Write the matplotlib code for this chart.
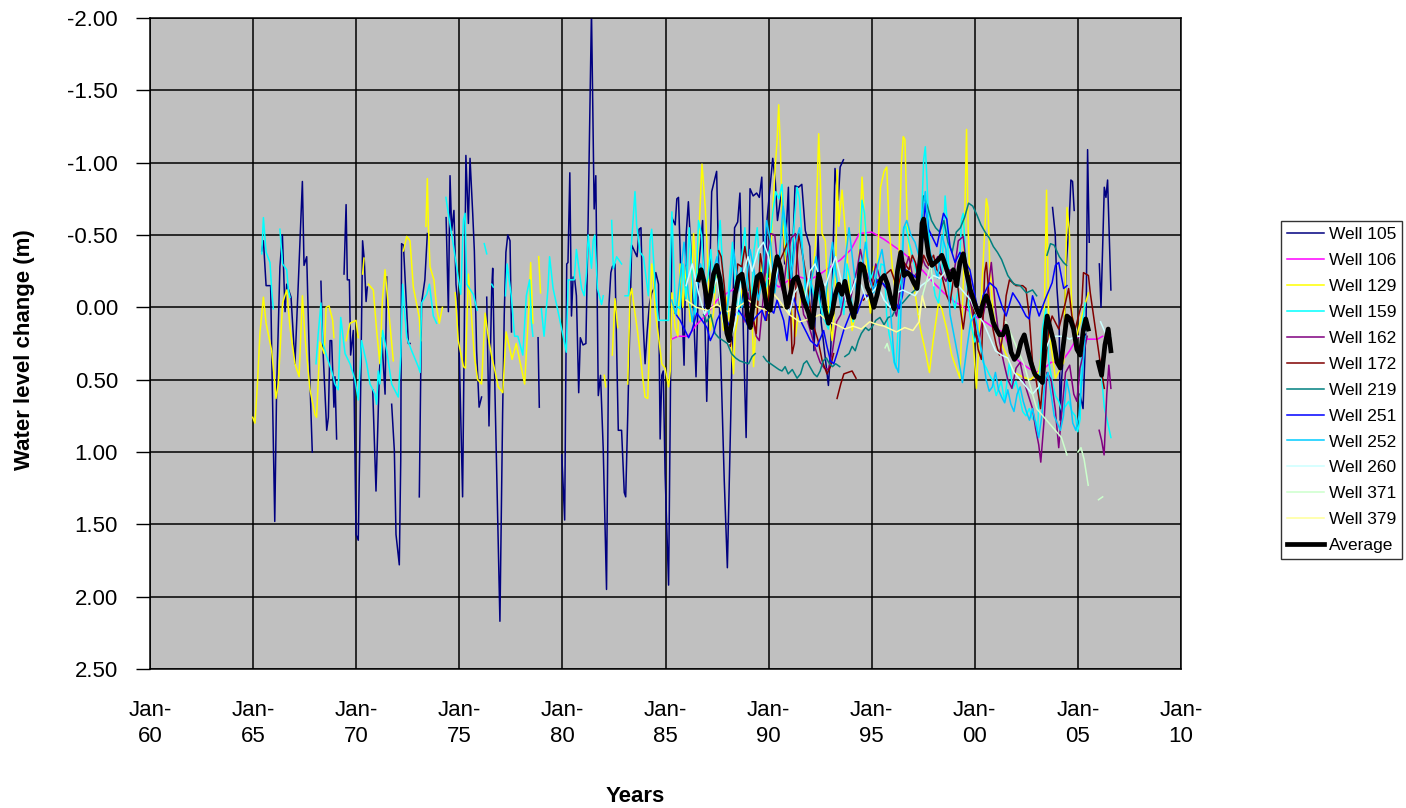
import numpy as np
import matplotlib.pyplot as plt

plt.rcParams['font.family'] = ['Liberation Sans', 'DejaVu Sans']
plt.rcParams['axes.unicode_minus'] = False

# (year, water level change in m); None marks a gap in the record
w105 = [(1965.42, -0.39), (1965.50, -0.46), (1965.63, -0.15), (1965.85, -0.15), (1965.93, 0.53), (1966.05, 1.48),
        (1966.14, 0.57), (1966.30, -0.28), (1966.42, -0.50), (1966.55, 0.03), (1966.63, -0.16), (1966.84, -0.07),
        (1967.03, 0.39), (1967.19, -0.16), (1967.39, -0.87), (1967.47, -0.29), (1967.60, -0.35), (1967.76, 0.53),
        (1967.87, 1.00), (1968.0, None),
        (1968.29, -0.18), (1968.37, 0.24), (1968.57, 0.85), (1968.65, 0.76), (1968.73, 0.23), (1968.81, 0.23),
        (1968.92, 0.69), (1968.97, 0.48), (1969.05, 0.91), (1969.2, None),
        (1969.41, -0.23), (1969.51, -0.71), (1969.57, -0.19), (1969.67, -0.19), (1969.73, 0.33), (1969.86, 0.16),
        (1969.99, 1.57), (1970.10, 1.61), (1970.22, 0.53), (1970.31, -0.46), (1970.39, -0.33), (1970.48, -0.04),
        (1970.54, -0.14), (1970.65, None),
        (1970.80, 0.57), (1970.96, 1.27), (1971.12, 0.46), (1971.24, 0.21), (1971.40, 0.60), (1971.48, -0.21),
        (1971.6, None),
        (1971.72, 0.67), (1971.85, 0.99), (1971.93, 1.57), (1972.09, 1.78), (1972.16, 1.06), (1972.20, -0.44),
        (1972.29, -0.43), (1972.40, -0.12), (1972.53, 0.25), (1972.61, 0.25), (1972.8, None),
        (1973.06, 1.31), (1973.17, -0.03), (1973.33, -0.19), (1973.45, -0.51), (1973.9, None),
        (1974.36, -0.62), (1974.47, 0.03), (1974.55, -0.91), (1974.63, -0.53), (1974.74, -0.67), (1974.84, -0.16),
        (1974.95, 0.02), (1975.16, 1.31), (1975.23, 0.34), (1975.32, -1.05), (1975.44, -0.58), (1975.52, -1.03),
        (1975.65, -0.65), (1975.73, -0.39), (1975.84, 0.30), (1975.96, 0.69), (1976.08, 0.62), (1976.2, None),
        (1976.33, -0.07), (1976.44, 0.82), (1976.57, -0.12), (1976.62, -0.27), (1976.73, 0.59), (1976.97, 2.17),
        (1977.10, 0.74), (1977.18, 0.05), (1977.26, -0.38), (1977.35, -0.50), (1977.46, -0.46), (1977.53, 0.17),
        (1978.0, None),
        (1978.82, 0.21), (1978.88, 0.69), (1979.3, None),
        (1979.97, 1.02), (1980.11, 1.47), (1980.21, -0.30), (1980.27, -0.31), (1980.36, -0.93), (1980.44, 0.06),
        (1980.52, -0.21), (1980.60, -0.19), (1980.68, -0.08), (1980.79, 0.59), (1980.87, 0.21), (1981.00, 0.26),
        (1981.14, 0.25), (1981.25, -0.62), (1981.41, -2.05), (1981.54, -0.68), (1981.62, -0.91), (1981.74, 0.61),
        (1981.85, 0.47), (1981.98, 0.98), (1982.14, 1.95), (1982.26, -0.02), (1982.35, -0.24), (1982.42, -0.28),
        (1982.55, -0.30), (1982.71, 0.85), (1982.87, 0.85), (1983.00, 1.28), (1983.07, 1.31), (1983.17, 0.74),
        (1983.36, -0.43), (1983.62, -0.35), (1983.72, -0.54), (1983.81, -0.55), (1983.91, 0.09), (1984.01, 0.39),
        (1984.11, 0.17), (1984.22, -0.02), (1984.33, -0.10), (1984.45, -0.13), (1984.53, -0.24), (1984.66, -0.16),
        (1984.74, 0.91), (1984.82, 0.47), (1984.89, 0.44), (1984.98, 1.15), (1985.15, 1.92), (1985.23, 0.74),
        (1985.31, -0.62), (1985.47, -0.57), (1985.55, -0.75), (1985.63, -0.76), (1985.75, -0.20), (1985.90, 0.40),
        (1986.00, -0.50), (1986.11, -0.73), (1986.30, -0.20), (1986.48, 0.48), (1986.62, -0.30), (1986.80, -0.60),
        (1987.00, 0.65), (1987.24, -0.80), (1987.48, -0.94), (1987.65, 0.20), (1987.85, 1.20), (1988.00, 1.80),
        (1988.16, 0.78), (1988.35, -0.55), (1988.50, -0.59), (1988.61, -0.79), (1988.78, 0.20), (1988.91, 0.90),
        (1989.10, -0.82), (1989.25, -0.77), (1989.42, -0.79), (1989.55, -0.76), (1989.67, -0.90), (1989.82, 0.00),
        (1989.92, -0.60), (1990.20, -1.03), (1990.32, -0.88), (1990.43, -0.60), (1990.64, -0.81), (1990.78, -0.30),
        (1990.96, -0.83), (1991.08, 0.00), (1991.28, -0.84), (1991.45, -0.83), (1991.61, -0.85), (1991.78, -0.53),
        (1992.00, -0.42), (1992.20, 0.30), (1992.40, -0.50), (1992.55, 0.10), (1992.90, 0.54), (1993.02, 0.27),
        (1993.22, -0.96), (1993.38, -0.74), (1993.47, -0.97), (1993.63, -1.02), (1994.0, None),
        (2003.77, -0.69), (2003.90, -0.51), (2003.98, -0.14), (2004.09, 0.09), (2004.14, 0.78), (2004.21, 0.50),
        (2004.30, 0.32), (2004.42, -0.26), (2004.58, -0.60), (2004.66, -0.88), (2004.74, -0.87), (2004.82, -0.67),
        (2004.95, None),
        (2005.10, 0.60), (2005.25, 0.70), (2005.40, 0.09), (2005.47, -1.09), (2005.55, -0.45), (2005.8, None),
        (2006.04, -0.30), (2006.12, 0.00), (2006.28, -0.83), (2006.36, -0.76), (2006.44, -0.88), (2006.60, -0.12)]

w106 = [(1985.30, 0.22), (1985.60, 0.20), (1986.10, 0.20), (1986.50, 0.12), (1987.00, 0.05), (1987.50, -0.05),
        (1988.00, -0.10), (1988.50, -0.14), (1989.00, -0.10), (1989.50, -0.17), (1990.00, -0.20), (1990.50, -0.14),
        (1991.00, -0.19), (1991.50, -0.21), (1992.00, -0.19), (1992.50, -0.23), (1993.00, -0.28), (1993.50, -0.33),
        (1994.00, -0.40), (1994.40, -0.51), (1995.00, -0.52), (1995.60, -0.47), (1996.00, -0.43), (1996.50, -0.38),
        (1997.00, -0.32), (1997.50, -0.25), (1998.00, -0.17), (1998.50, -0.10), (1999.00, -0.04), (1999.50, 0.00),
        (2000.00, 0.06), (2000.50, 0.10), (2001.00, 0.15), (2001.40, 0.17), (2001.80, 0.33), (2002.20, 0.38),
        (2002.60, 0.42), (2002.95, 0.45), (2003.30, 0.43), (2003.70, 0.38), (2004.20, 0.38), (2004.60, 0.30),
        (2005.00, 0.20), (2005.40, 0.22), (2005.95, 0.22), (2006.20, 0.20)]

w129 = [(1964.98, 0.76), (1965.09, 0.80), (1965.21, 0.53), (1965.33, 0.18), (1965.50, -0.07), (1965.63, 0.11),
        (1965.90, 0.30), (1966.01, 0.46), (1966.11, 0.63), (1966.22, 0.53), (1966.34, 0.21), (1966.43, -0.03),
        (1966.63, -0.12), (1966.79, 0.14), (1967.03, 0.39), (1967.23, 0.48), (1967.39, -0.08), (1967.52, 0.21),
        (1967.76, 0.57), (1968.00, 0.74), (1968.08, 0.76), (1968.24, 0.24), (1968.45, 0.32), (1968.54, 0.00),
        (1968.68, -0.01), (1968.86, 0.09), (1968.92, 0.21), (1969.2, None),
        (1969.51, 0.23), (1969.70, 0.11), (1969.99, 0.09), (1970.10, 0.21), (1970.2, None),
        (1970.31, -0.23), (1970.38, -0.34), (1970.45, None),
        (1970.59, -0.16), (1970.83, -0.12), (1970.99, 0.16), (1971.15, 0.39), (1971.27, -0.05), (1971.40, -0.26),
        (1971.56, 0.00), (1971.80, 0.37), (1972.0, None),
        (1972.29, -0.39), (1972.45, -0.49), (1972.61, -0.46), (1972.77, -0.14), (1973.06, 0.07), (1973.13, 0.23),
        (1973.25, None),
        (1973.38, -0.56), (1973.45, -0.89), (1973.50, -0.56), (1973.58, -0.28), (1973.77, -0.19), (1973.90, 0.00),
        (1974.03, 0.11), (1974.18, 0.00), (1974.5, None),
        (1974.80, -0.10), (1974.95, 0.23), (1975.20, 0.41), (1975.30, 0.42), (1975.44, -0.23), (1975.57, 0.02),
        (1975.73, 0.34), (1975.89, 0.50), (1976.08, 0.53), (1976.25, 0.04), (1976.41, 0.21), (1976.57, 0.34),
        (1976.73, 0.44), (1976.89, 0.55), (1977.11, 0.59), (1977.27, 0.17), (1977.56, 0.36), (1977.76, 0.25),
        (1978.17, 0.53), (1978.41, -0.10), (1978.46, -0.31), (1978.57, 0.11), (1978.7, None),
        (1978.85, -0.35), (1978.94, -0.10), (1979.1, None),
        (1982.03, 0.47), (1982.10, 0.55), (1982.25, None),
        (1982.42, 0.33), (1982.55, -0.06), (1982.68, 0.14), (1982.9, None),
        (1983.17, 0.53), (1983.28, -0.08), (1983.36, -0.13), (1983.49, 0.01), (1983.62, 0.14), (1983.76, 0.30),
        (1983.88, 0.47), (1984.01, 0.62), (1984.14, 0.63), (1984.25, 0.09), (1984.33, -0.30), (1984.41, -0.21),
        (1984.50, 0.03), (1984.66, 0.20), (1984.82, 0.39), (1984.98, 0.42), (1985.15, 0.55), (1985.23, 0.44),
        (1985.31, -0.10), (1985.47, 0.14), (1985.60, 0.20), (1985.71, -0.30), (1985.84, 0.00), (1986.00, -0.28),
        (1986.20, 0.10), (1986.36, -0.51), (1986.52, -0.19), (1986.77, -0.99), (1986.93, -0.69), (1987.09, -0.19),
        (1987.17, 0.16), (1987.33, 0.04), (1987.45, -0.23), (1987.58, -0.14), (1987.70, 0.04), (1987.82, 0.16),
        (1987.98, -0.07), (1988.14, 0.16), (1988.30, 0.46), (1988.38, 0.18), (1988.63, -0.05), (1988.79, -0.19),
        (1988.95, -0.07), (1989.16, -0.14), (1989.27, 0.41), (1989.43, 0.04), (1989.60, -0.30), (1989.76, -0.14),
        (1989.89, -0.23), (1990.00, 0.04), (1990.17, -0.60), (1990.33, -0.99), (1990.41, -1.15), (1990.49, -1.40),
        (1990.57, -1.11), (1990.65, -0.69), (1990.81, -0.33), (1990.97, -0.19), (1991.13, 0.04), (1991.30, 0.20),
        (1991.46, 0.04), (1991.62, -0.14), (1991.78, -0.09), (1991.94, -0.09), (1992.10, -0.19), (1992.27, -0.42),
        (1992.43, -1.20), (1992.51, -0.88), (1992.59, -0.51), (1992.75, -0.46), (1992.91, 0.02), (1993.08, 0.23),
        (1993.24, -0.09), (1993.32, -0.95), (1993.40, -0.56), (1993.56, -0.81), (1993.72, -0.53), (1993.89, -0.19),
        (1994.05, 0.16), (1994.21, 0.04), (1994.37, -0.28), (1994.53, -0.90), (1994.66, -0.60), (1994.77, -0.19),
        (1994.94, 0.04), (1995.10, -0.28), (1995.27, -0.28), (1995.43, -0.83), (1995.60, -0.94), (1995.73, -0.97),
        (1995.85, -0.54), (1996.01, -0.26), (1996.17, -0.08), (1996.33, -0.38), (1996.44, -1.00), (1996.53, -1.18),
        (1996.61, -1.16), (1996.73, -0.54), (1996.88, -0.26), (1997.12, -0.08), (1997.36, 0.15), (1997.60, 0.30),
        (1997.80, 0.45), (1997.97, 0.24), (1998.24, -0.03), (1998.40, 0.01), (1998.64, 0.15), (1998.88, 0.33),
        (1999.28, 0.49), (1999.45, -0.20), (1999.60, -1.23), (1999.68, -0.54), (1999.79, -0.03), (2000.08, 0.56),
        (2000.40, -0.30), (2000.56, -0.75), (2000.64, -0.69), (2000.72, -0.31), (2000.88, 0.03), (2001.12, 0.19),
        (2001.68, 0.38), (2001.92, 0.45), (2002.30, 0.48), (2002.70, 0.50), (2003.10, 0.45), (2003.35, 0.20),
        (2003.48, -0.81), (2003.59, 0.15), (2003.91, 0.49), (2004.31, 0.38), (2004.47, -0.69), (2004.58, -0.54),
        (2004.71, 0.03), (2004.87, 0.24), (2005.19, 0.06), (2005.51, -0.10)]

w159 = [(1965.42, -0.37), (1965.50, -0.62), (1965.63, -0.38), (1965.82, -0.31), (1965.90, -0.12), (1965.98, 0.01),
        (1966.15, None),
        (1966.30, -0.54), (1966.43, -0.30), (1966.63, -0.26), (1966.71, -0.12), (1966.79, -0.07), (1967.0, None),
        (1968.05, 0.39), (1968.16, 0.18), (1968.29, -0.03), (1968.37, 0.24), (1968.57, 0.34), (1968.81, 0.44),
        (1968.97, 0.53), (1969.13, 0.57), (1969.25, 0.07), (1969.46, 0.32), (1969.70, 0.39), (1969.94, 0.50),
        (1970.10, 0.64), (1970.26, 0.23), (1970.51, 0.39), (1970.67, 0.53), (1970.91, 0.60), (1970.99, 0.67),
        (1971.07, 0.44), (1971.15, 0.53), (1971.28, 0.16), (1971.48, 0.30), (1971.72, 0.53), (1972.04, 0.62),
        (1972.16, 0.34), (1972.25, -0.16), (1972.45, 0.21), (1972.69, 0.30), (1973.01, 0.41), (1973.10, 0.45),
        (1973.17, -0.03), (1973.42, -0.09), (1973.55, -0.16), (1973.74, 0.06), (1973.90, 0.11), (1974.1, None),
        (1974.35, -0.76), (1974.50, -0.62), (1974.68, -0.46), (1974.87, -0.28), (1975.07, -0.09), (1975.20, -0.60),
        (1975.28, -0.65), (1975.36, -0.16), (1975.68, -0.09), (1975.87, 0.02), (1976.0, None),
        (1976.21, -0.44), (1976.33, -0.37), (1976.45, None),
        (1976.57, -0.16), (1976.65, -0.14), (1976.9, None),
        (1977.24, -0.08), (1977.32, -0.30), (1977.52, -0.08), (1977.68, 0.20), (1977.84, 0.20), (1978.08, 0.33),
        (1978.25, -0.08), (1978.41, -0.19), (1978.49, 0.09), (1978.57, 0.20), (1978.75, None),
        (1978.98, 0.01), (1979.11, 0.20), (1979.30, -0.13), (1979.38, -0.35), (1979.55, -0.13), (1979.79, 0.03),
        (1980.11, 0.25), (1980.19, 0.31), (1980.28, -0.19), (1980.57, -0.19), (1980.68, -0.40), (1980.93, -0.13),
        (1981.06, -0.08), (1981.17, -0.24), (1981.25, -0.50), (1981.41, -0.27), (1981.49, -0.46), (1981.57, -0.50),
        (1981.70, -0.13), (1981.90, -0.02), (1981.98, -0.08), (1982.2, None),
        (1982.39, -0.60), (1982.47, -0.27), (1982.63, -0.35), (1982.87, -0.30), (1982.95, None),
        (1983.04, -0.08), (1983.20, -0.08), (1983.36, -0.46), (1983.52, -0.80), (1983.60, -0.57), (1983.77, -0.38),
        (1983.93, -0.35), (1984.17, -0.08), (1984.25, -0.46), (1984.33, -0.54), (1984.53, -0.08), (1984.66, 0.09),
        (1984.82, 0.09), (1985.15, 0.09), (1985.31, -0.66), (1985.47, -0.02), (1985.71, 0.01), (1985.85, -0.30),
        (1986.00, -0.05), (1986.15, -0.55), (1986.30, -0.20), (1986.45, 0.05), (1986.60, -0.60), (1986.75, -0.50),
        (1986.90, -0.15), (1987.05, -0.20), (1987.20, -0.40), (1987.35, -0.10), (1987.50, -0.30), (1987.65, -0.60),
        (1987.80, -0.20), (1987.95, 0.10), (1988.10, -0.20), (1988.25, -0.45), (1988.40, -0.10), (1988.55, 0.05),
        (1988.70, -0.35), (1988.85, -0.55), (1989.00, -0.20), (1989.15, 0.00), (1989.30, -0.40), (1989.45, -0.55),
        (1989.60, -0.20), (1989.75, -0.10), (1989.90, -0.15), (1990.05, -0.45), (1990.20, -0.65), (1990.35, -0.80),
        (1990.50, -0.75), (1990.65, -0.85), (1990.80, -0.50), (1990.95, -0.20), (1991.10, -0.30), (1991.25, -0.60),
        (1991.38, -0.83), (1991.50, -0.75), (1991.65, -0.40), (1991.80, -0.05), (1991.95, -0.20), (1992.10, -0.15),
        (1992.25, -0.05), (1992.40, -0.10), (1992.60, 0.05), (1992.75, 0.10), (1992.90, 0.15), (1993.05, -0.10),
        (1993.20, -0.30), (1993.35, -0.15), (1993.50, -0.10), (1993.65, 0.05), (1993.80, -0.30), (1993.95, -0.20),
        (1994.10, 0.10), (1994.25, 0.00), (1994.40, -0.30), (1994.53, -0.74), (1994.65, -0.65), (1994.80, -0.35),
        (1994.95, -0.20), (1995.10, -0.25), (1995.30, -0.10), (1995.45, -0.30), (1995.61, -0.29), (1995.73, 0.06),
        (1995.85, 0.19), (1995.93, 0.24), (1996.09, 0.38), (1996.17, 0.42), (1996.28, 0.15), (1996.41, -0.22),
        (1996.54, -0.54), (1996.65, -0.56), (1996.81, -0.45), (1996.97, -0.36), (1997.13, -0.26), (1997.28, -0.19),
        (1997.40, -0.54), (1997.52, -1.02), (1997.60, -1.11), (1997.68, -0.88), (1997.81, -0.42), (1997.92, -0.22),
        (1998.08, -0.08), (1998.24, -0.03), (1998.40, -0.22), (1998.56, -0.77), (1998.64, -0.63), (1998.72, -0.31),
        (1998.88, -0.08), (1999.04, 0.01), (1999.20, -0.13), (1999.36, -0.61), (1999.44, -0.65), (1999.57, -0.31),
        (1999.68, -0.03), (1999.84, 0.13), (2000.00, 0.24), (2000.16, 0.17), (2000.40, 0.38), (2000.56, 0.42),
        (2000.72, 0.47), (2000.88, 0.51), (2001.04, 0.61), (2001.28, 0.51), (2001.44, 0.65), (2001.68, 0.38),
        (2001.84, 0.56), (2002.00, 0.51), (2002.16, 0.61), (2002.32, 0.72), (2002.48, 0.75), (2002.64, 0.70),
        (2002.80, 0.77), (2002.96, 0.79), (2003.04, 0.91), (2003.12, 0.56), (2003.28, 0.15), (2003.44, 0.01),
        (2003.59, 0.38), (2003.75, 0.51), (2003.91, 0.61), (2004.07, 0.65), (2004.23, 0.72), (2004.55, 0.65),
        (2004.71, 0.72), (2004.87, 0.75), (2004.99, 0.86), (2005.11, 0.77), (2005.19, 0.15), (2005.27, 0.06),
        (2005.35, -0.03), (2005.7, None),
        (2006.10, 0.40), (2006.28, 0.69), (2006.45, 0.80), (2006.60, 0.90)]

w162 = [(1988.80, 0.10), (1989.00, -0.10), (1989.20, 0.05), (1989.40, 0.20), (1989.55, 0.23), (1989.70, 0.00),
        (1989.90, -0.35), (1990.10, -0.51), (1990.30, -0.50), (1990.50, -0.20), (1990.70, -0.10), (1990.90, -0.35),
        (1991.10, -0.48), (1991.30, -0.51), (1991.50, -0.15), (1991.70, 0.05), (1991.90, 0.10), (1992.10, 0.20),
        (1992.30, 0.30), (1992.50, 0.38), (1992.70, 0.42), (1992.90, 0.43), (1993.10, 0.30), (1993.30, 0.10),
        (1993.50, 0.05), (1993.70, -0.10), (1993.90, 0.00), (1994.10, -0.15), (1994.30, -0.27), (1994.45, -0.40),
        (1994.60, -0.30), (1994.80, -0.22), (1995.00, -0.15), (1995.20, -0.30), (1995.40, -0.20), (1995.60, -0.15),
        (1995.80, -0.12), (1996.00, -0.03), (1996.20, 0.06), (1996.40, -0.13), (1996.60, -0.26), (1996.80, -0.35),
        (1997.00, -0.20), (1997.20, -0.24), (1997.40, -0.36), (1997.60, -0.29), (1997.80, -0.26), (1998.00, -0.30),
        (1998.20, -0.35), (1998.40, -0.23), (1998.60, -0.18), (1998.80, -0.26), (1999.00, -0.24), (1999.20, -0.46),
        (1999.44, -0.49), (1999.60, -0.26), (1999.80, -0.03), (2000.00, 0.15), (2000.20, 0.24), (2000.40, 0.06),
        (2000.60, -0.08), (2000.80, -0.31), (2001.00, 0.00), (2001.20, 0.24), (2001.40, 0.38), (2001.60, 0.50),
        (2001.80, 0.56), (2002.00, 0.42), (2002.20, 0.38), (2002.40, 0.52), (2002.60, 0.61), (2002.80, 0.70),
        (2002.95, 0.84), (2003.10, 0.95), (2003.20, 1.07), (2003.35, 0.80), (2003.50, 0.45), (2003.70, 0.50),
        (2003.90, 0.70), (2004.07, 0.97), (2004.20, 0.75), (2004.40, 0.45), (2004.60, 0.40), (2004.80, 0.60),
        (2004.95, 0.65), (2005.10, 0.42), (2005.30, 0.30), (2005.45, 0.20), (2005.7, None),
        (2006.03, 0.85), (2006.15, 0.92), (2006.27, 1.02), (2006.40, 0.60), (2006.50, 0.40), (2006.60, 0.56)]

w172 = [(1987.58, -0.39), (1987.70, -0.35), (1987.85, -0.15), (1988.00, 0.12), (1988.14, 0.27), (1988.35, 0.05),
        (1988.50, -0.30), (1988.70, -0.28), (1988.85, -0.42), (1989.00, -0.28), (1989.20, 0.04), (1989.40, 0.18),
        (1989.60, -0.37), (1989.75, -0.23), (1989.90, 0.09), (1990.05, -0.14), (1990.40, -0.28), (1990.70, -0.37),
        (1990.95, -0.46), (1991.14, 0.32), (1991.25, 0.25), (1991.35, -0.28), (1991.46, -0.51), (1991.70, -0.32),
        (1991.90, -0.14), (1992.10, 0.09), (1992.40, 0.23), (1992.60, 0.37), (1992.83, 0.46), (1993.00, 0.41),
        (1993.15, 0.32), (1993.25, None),
        (1993.32, 0.63), (1993.50, 0.53), (1993.65, 0.46), (1993.85, 0.45), (1994.05, 0.44), (1994.24, 0.49),
        (1994.4, None),
        (1994.60, -0.05), (1994.90, -0.10), (1995.20, -0.20), (1995.40, -0.15), (1995.61, -0.22), (1995.93, -0.26),
        (1996.25, -0.13), (1996.57, -0.31), (1996.81, -0.26), (1996.97, -0.36), (1997.12, -0.31), (1997.28, -0.19),
        (1997.52, -0.36), (1997.76, -0.29), (1998.00, -0.36), (1998.16, -0.26), (1998.40, -0.22), (1998.64, -0.08),
        (1998.80, -0.03), (1998.96, -0.19), (1999.12, -0.22), (1999.28, -0.01), (1999.44, 0.15), (1999.60, -0.03),
        (1999.76, -0.22), (1999.92, 0.01), (2000.16, 0.29), (2000.32, 0.36), (2000.40, 0.06), (2000.48, -0.24),
        (2000.56, -0.31), (2000.72, -0.03), (2000.88, 0.15), (2001.04, 0.26), (2001.20, 0.33), (2001.36, 0.19),
        (2001.52, -0.08), (2001.68, -0.19), (2002.00, -0.15), (2002.32, -0.15), (2002.48, -0.13), (2002.64, 0.06),
        (2002.80, 0.38), (2002.96, 0.49), (2003.19, 0.70), (2003.27, 0.56), (2003.43, 0.38), (2003.59, 0.15),
        (2003.75, 0.06), (2004.07, 0.15), (2004.39, -0.03), (2004.55, -0.13), (2004.71, 0.06), (2004.87, 0.15),
        (2005.19, -0.03), (2005.27, -0.24), (2005.51, -0.22), (2005.60, -0.10), (2005.80, 0.10), (2006.00, 0.30),
        (2006.15, 0.45), (2006.28, 0.56)]

w219 = [(1986.85, 0.05), (1987.00, 0.10), (1987.20, 0.05), (1987.40, 0.18), (1987.58, 0.21), (1987.80, 0.23),
        (1988.00, 0.25), (1988.20, 0.32), (1988.40, 0.35), (1988.60, 0.37), (1988.80, 0.38), (1989.03, 0.39),
        (1989.20, 0.34), (1989.35, 0.32), (1989.55, None),
        (1989.75, 0.34), (1989.90, 0.37), (1990.10, 0.39), (1990.30, 0.41), (1990.50, 0.43), (1990.65, 0.44),
        (1990.80, 0.41), (1990.95, 0.46), (1991.15, 0.43), (1991.38, 0.49), (1991.55, 0.46), (1991.70, 0.39),
        (1991.85, 0.37), (1992.00, 0.41), (1992.20, 0.46), (1992.35, 0.48), (1992.50, 0.44), (1992.65, 0.37),
        (1992.80, 0.35), (1992.95, 0.39), (1993.10, 0.41), (1993.25, 0.39), (1993.45, 0.41), (1993.55, None),
        (1993.70, 0.34), (1993.90, 0.32), (1994.05, 0.27), (1994.20, 0.30), (1994.35, 0.23), (1994.50, 0.18),
        (1994.70, 0.14), (1994.85, 0.16), (1995.00, 0.14), (1995.20, 0.09), (1995.40, 0.07), (1995.60, 0.12),
        (1995.80, 0.07), (1996.00, 0.06), (1996.20, 0.00), (1996.50, -0.03), (1996.80, -0.08), (1997.10, -0.12),
        (1997.30, -0.20), (1997.40, -0.45), (1997.52, -0.77), (1997.70, -0.70), (1997.90, -0.60), (1998.10, -0.55),
        (1998.30, -0.52), (1998.50, -0.60), (1998.70, -0.45), (1998.90, -0.38), (1999.10, -0.52), (1999.30, -0.55),
        (1999.50, -0.62), (1999.70, -0.72), (1999.90, -0.70), (2000.10, -0.64), (2000.30, -0.57), (2000.50, -0.52),
        (2000.70, -0.48), (2000.90, -0.42), (2001.10, -0.38), (2001.30, -0.33), (2001.60, -0.22), (2001.90, -0.16),
        (2002.20, -0.15), (2002.50, -0.10), (2002.80, -0.12), (2003.00, -0.08), (2003.3, None),
        (2003.50, -0.36), (2003.67, -0.44), (2003.85, -0.43), (2004.10, -0.35), (2004.30, -0.31), (2004.45, -0.29)]

w251 = [(1985.47, 0.04), (1985.71, 0.09), (1985.88, 0.14), (1986.12, 0.21), (1986.28, 0.16), (1986.52, 0.04),
        (1986.77, 0.09), (1987.01, 0.14), (1987.17, 0.23), (1987.33, 0.18), (1987.49, 0.09), (1987.74, 0.02),
        (1987.98, 0.09), (1988.14, 0.14), (1988.30, 0.07), (1988.55, 0.02), (1988.87, 0.09), (1989.03, 0.14),
        (1989.36, 0.07), (1989.68, 0.02), (1989.84, 0.09), (1990.00, 0.00), (1990.25, 0.04), (1990.41, -0.05),
        (1990.73, 0.09), (1990.89, 0.23), (1991.05, 0.02), (1991.22, -0.07), (1991.54, 0.09), (1991.86, 0.18),
        (1992.03, 0.23), (1992.35, 0.27), (1992.67, 0.16), (1992.83, 0.27), (1993.00, 0.37), (1993.16, 0.39),
        (1993.32, 0.32), (1993.64, 0.16), (1993.97, 0.04), (1994.29, 0.04), (1994.61, -0.09), (1994.94, -0.07),
        (1995.26, -0.19), (1995.58, -0.16), (1995.91, -0.09), (1996.17, -0.03), (1996.33, 0.01), (1996.49, -0.08),
        (1996.65, -0.26), (1997.04, -0.22), (1997.28, -0.19), (1997.52, -0.54), (1997.60, -0.72), (1997.76, -0.54),
        (1998.16, -0.42), (1998.48, -0.65), (1998.64, -0.61), (1998.80, -0.42), (1999.04, -0.31), (1999.28, -0.38),
        (1999.76, -0.26), (2000.08, -0.03), (2000.24, 0.06), (2000.40, -0.08), (2000.72, -0.17), (2001.04, -0.13),
        (2001.36, 0.01), (2001.52, 0.06), (2001.84, -0.10), (2002.16, -0.03), (2002.48, 0.06), (2002.64, 0.08),
        (2002.80, -0.08), (2003.12, 0.06), (2003.43, -0.06), (2003.75, -0.17), (2003.91, -0.29), (2004.07, -0.31),
        (2004.31, -0.13), (2004.47, -0.15)]

w252 = [(1985.30, -0.05), (1985.50, 0.05), (1985.70, -0.20), (1985.90, -0.45), (1986.10, -0.10), (1986.30, 0.10),
        (1986.50, -0.10), (1986.70, -0.30), (1986.90, -0.15), (1987.10, 0.05), (1987.30, -0.25), (1987.50, -0.35),
        (1987.70, -0.10), (1987.90, 0.10), (1988.10, -0.10), (1988.30, -0.40), (1988.50, -0.20), (1988.70, 0.00),
        (1988.90, -0.15), (1989.10, -0.40), (1989.30, -0.25), (1989.50, -0.05), (1989.70, -0.20), (1989.90, -0.60),
        (1990.10, -0.45), (1990.30, -0.10), (1990.50, -0.30), (1990.70, -0.70), (1990.90, -0.50), (1991.10, -0.20),
        (1991.30, -0.45), (1991.50, -0.55), (1991.70, -0.30), (1991.90, 0.00), (1992.10, -0.20), (1992.30, -0.35),
        (1992.50, -0.15), (1992.70, 0.05), (1992.90, -0.25), (1993.10, -0.45), (1993.30, -0.20), (1993.50, 0.00),
        (1993.70, -0.30), (1993.90, -0.55), (1994.10, -0.30), (1994.30, -0.05), (1994.50, -0.25), (1994.70, -0.45),
        (1994.90, -0.20), (1995.10, -0.10), (1995.30, -0.30), (1995.50, -0.40), (1995.70, -0.20), (1995.90, 0.00),
        (1996.10, 0.38), (1996.30, 0.45), (1996.40, 0.10), (1996.55, -0.55), (1996.70, -0.60), (1996.90, -0.50),
        (1997.10, -0.45), (1997.30, -0.35), (1997.40, -0.60), (1997.60, -0.80), (1997.80, -0.40), (1998.00, -0.30),
        (1998.20, -0.20), (1998.40, -0.50), (1998.60, -0.40), (1998.80, 0.05), (1999.00, 0.20), (1999.20, 0.35),
        (1999.40, 0.52), (1999.60, 0.30), (1999.80, 0.10), (2000.00, 0.05), (2000.20, 0.20), (2000.40, 0.35),
        (2000.55, 0.50), (2000.70, 0.58), (2000.85, 0.55), (2001.00, 0.45), (2001.15, 0.57), (2001.30, 0.62),
        (2001.45, 0.66), (2001.60, 0.57), (2001.75, 0.67), (2001.90, 0.72), (2002.05, 0.60), (2002.20, 0.55),
        (2002.35, 0.65), (2002.50, 0.72), (2002.65, 0.78), (2002.80, 0.70), (2002.95, 0.80), (2003.10, 0.90),
        (2003.25, 0.75), (2003.40, 0.50), (2003.55, 0.45), (2003.70, 0.60), (2003.85, 0.75), (2004.00, 0.80),
        (2004.15, 0.85), (2004.30, 0.75), (2004.45, 0.50), (2004.60, 0.60), (2004.75, 0.80), (2004.90, 0.85),
        (2005.05, 0.75), (2005.20, 0.50), (2005.35, 0.20)]

w260 = [(1986.00, -0.15), (1986.30, -0.30), (1986.60, -0.10), (1986.90, 0.05), (1987.20, -0.10), (1987.50, -0.20),
        (1987.80, 0.10), (1988.10, 0.25), (1988.40, 0.10), (1988.70, -0.20), (1989.00, -0.35), (1989.20, -0.25),
        (1989.50, -0.40), (1989.75, -0.45), (1990.00, -0.35), (1990.25, -0.15), (1990.50, -0.30), (1990.75, -0.15),
        (1991.00, 0.05), (1991.25, -0.10), (1991.50, -0.15), (1991.75, -0.05), (1992.00, -0.25), (1992.25, -0.30),
        (1992.50, -0.20), (1992.75, -0.15), (1993.00, -0.25), (1993.25, -0.35), (1993.50, -0.20), (1993.75, -0.05),
        (1994.00, -0.10), (1994.25, -0.20), (1994.50, -0.15), (1994.75, -0.05), (1995.00, -0.10), (1995.30, -0.15),
        (1995.60, -0.05), (1995.90, 0.00), (1996.20, -0.10), (1996.50, -0.12), (1996.80, -0.10), (1997.10, -0.08),
        (1997.40, -0.15), (1997.70, -0.18), (1998.00, -0.22), (1998.30, -0.20), (1998.60, -0.25), (1998.90, -0.20),
        (1999.20, -0.15), (1999.50, -0.10), (1999.80, -0.05), (2000.10, 0.05), (2000.40, 0.10), (2000.70, 0.20),
        (2001.00, 0.30), (2001.30, 0.33), (2001.60, 0.35), (2001.90, 0.45), (2002.20, 0.50), (2002.50, 0.55),
        (2002.80, 0.60), (2003.10, 0.55), (2003.40, 0.30), (2003.70, 0.20), (2004.00, 0.20), (2004.30, 0.20),
        (2004.60, 0.22), (2004.90, 0.20), (2005.20, 0.20), (2005.50, 0.15), (2005.8, None),
        (2006.10, 0.10), (2006.40, 0.20), (2006.60, 0.20)]

w371 = [(1995.65, 0.28), (1995.75, 0.25), (1995.85, 0.30), (1996.2, None),
        (1997.30, 0.05), (1997.50, -0.10), (1997.70, -0.20), (1997.85, -0.30), (1998.00, -0.15), (1998.3, None),
        (2001.50, 0.10), (2001.80, 0.20), (2002.10, 0.30), (2002.40, 0.40), (2002.70, 0.55), (2003.00, 0.70),
        (2003.30, 0.75), (2003.60, 0.80), (2003.90, 0.85), (2004.20, 0.90), (2004.47, 1.02), (2004.7, None),
        (2005.00, 1.00), (2005.15, 0.97), (2005.30, 1.05), (2005.50, 1.23), (2005.8, None),
        (2006.00, 1.33), (2006.20, 1.31)]

w379 = [(1986.00, -0.05), (1986.50, 0.00), (1987.00, 0.02), (1987.50, -0.02), (1988.00, 0.03), (1988.50, 0.00),
        (1989.00, -0.05), (1989.50, 0.00), (1989.90, 0.02), (1990.20, -0.10), (1990.50, -0.05), (1991.00, 0.05),
        (1991.50, 0.10), (1992.00, 0.08), (1992.50, 0.05), (1992.90, 0.10), (1993.30, 0.12), (1993.70, 0.15),
        (1994.10, 0.13), (1994.50, 0.15), (1994.90, 0.10), (1995.30, 0.12), (1995.60, 0.13), (1995.90, 0.15),
        (1996.20, 0.17), (1996.60, 0.14), (1997.00, 0.16), (1997.30, 0.10), (1997.45, -0.08), (1997.60, 0.00)]

average = [(1986.60, -0.19), (1986.73, -0.26), (1986.85, -0.19), (1986.93, -0.12), (1987.06, 0.00), (1987.17, -0.07),
           (1987.33, -0.23), (1987.49, -0.29), (1987.65, -0.19), (1987.82, 0.00), (1987.98, 0.18), (1988.09, 0.23),
           (1988.22, 0.09), (1988.38, -0.09), (1988.55, -0.21), (1988.71, -0.23), (1988.87, -0.09), (1989.00, 0.09),
           (1989.11, 0.14), (1989.27, -0.05), (1989.44, -0.21), (1989.60, -0.23), (1989.76, -0.14), (1989.92, 0.00),
           (1990.08, 0.02), (1990.25, -0.23), (1990.41, -0.35), (1990.57, -0.28), (1990.73, -0.14), (1990.89, 0.00),
           (1991.05, -0.09), (1991.21, -0.19), (1991.38, -0.21), (1991.54, -0.14), (1991.70, -0.05), (1991.94, 0.04),
           (1992.10, 0.14), (1992.27, -0.05), (1992.43, -0.23), (1992.59, -0.14), (1992.75, 0.02), (1992.90, 0.11),
           (1993.08, 0.04), (1993.24, -0.09), (1993.40, -0.16), (1993.56, -0.09), (1993.70, -0.18), (1993.89, -0.05),
           (1994.13, 0.07), (1994.29, -0.05), (1994.45, -0.30), (1994.61, -0.28), (1994.78, -0.14), (1994.94, -0.09),
           (1995.10, 0.00), (1995.27, -0.09), (1995.43, -0.19), (1995.61, -0.22), (1995.77, -0.16), (1995.93, -0.06),
           (1996.09, 0.01), (1996.25, -0.25), (1996.41, -0.38), (1996.57, -0.22), (1996.73, -0.24), (1996.88, -0.22),
           (1997.04, -0.17), (1997.20, -0.13), (1997.36, -0.35), (1997.44, -0.58), (1997.52, -0.61), (1997.65, -0.47),
           (1997.76, -0.36), (1997.92, -0.29), (1998.08, -0.31), (1998.24, -0.33), (1998.40, -0.36), (1998.48, -0.33),
           (1998.64, -0.26), (1998.80, -0.19), (1998.96, -0.26), (1999.12, -0.15), (1999.28, -0.31), (1999.44, -0.37),
           (1999.60, -0.24), (1999.76, -0.13), (1999.92, -0.06), (2000.08, 0.01), (2000.24, 0.06), (2000.40, -0.03),
           (2000.56, -0.08), (2000.72, -0.01), (2000.88, 0.10), (2001.04, 0.15), (2001.20, 0.19), (2001.36, 0.19),
           (2001.52, 0.13), (2001.60, 0.17), (2001.76, 0.31), (2001.92, 0.36), (2002.08, 0.33), (2002.24, 0.24),
           (2002.40, 0.19), (2002.56, 0.29), (2002.72, 0.38), (2002.88, 0.45), (2002.95, 0.47), (2003.12, 0.49),
           (2003.28, 0.52), (2003.43, 0.15), (2003.51, 0.06), (2003.67, 0.15), (2003.83, 0.24), (2003.99, 0.38),
           (2004.15, 0.42), (2004.31, 0.24), (2004.47, 0.06), (2004.63, 0.08), (2004.79, 0.15), (2004.95, 0.29),
           (2005.11, 0.33), (2005.27, 0.15), (2005.38, 0.08), (2005.50, 0.15), (2005.75, None),
           (2005.99, 0.38), (2006.15, 0.47), (2006.31, 0.26), (2006.47, 0.15), (2006.60, 0.30)]

series = [
    ('Well 105', w105, '#000080', 1.1),
    ('Well 106', w106, '#FF00FF', 1.1),
    ('Well 129', w129, '#FFFF00', 1.1),
    ('Well 159', w159, '#00FFFF', 1.1),
    ('Well 162', w162, '#800080', 1.1),
    ('Well 172', w172, '#800000', 1.1),
    ('Well 219', w219, '#008080', 1.1),
    ('Well 251', w251, '#0000FF', 1.1),
    ('Well 252', w252, '#00CCFF', 1.1),
    ('Well 260', w260, '#CCFFFF', 1.1),
    ('Well 371', w371, '#CCFFCC', 1.1),
    ('Well 379', w379, '#FFFF99', 1.1),
    ('Average', average, '#000000', 3.4),
]

yticks = [-2.0, -1.5, -1.0, -0.5, 0.0, 0.5, 1.0, 1.5, 2.0, 2.5]
xticks = [1960, 1965, 1970, 1975, 1980, 1985, 1990, 1995, 2000, 2005, 2010]

W, H = 1406, 808
fig = plt.figure(figsize=(W / 100, H / 100), dpi=100)
ax = fig.add_axes([150 / W, 1 - 669 / H, 1031 / W, 651 / H])
ax.set_facecolor('#C0C0C0')

for label, pts, color, lw in series:
    t = np.array([p[0] for p in pts], dtype=float)
    v = np.array([np.nan if p[1] is None else p[1] for p in pts], dtype=float)
    ax.plot(t, v, color=color, lw=lw, label=label, solid_joinstyle='round')

ax.set_xlim(1960, 2010)
ax.set_ylim(2.5, -2.0)
ax.set_yticks(yticks)
ax.set_yticklabels(['%.2f' % y for y in yticks])
ax.set_xticks(xticks)
ax.set_xticklabels(['Jan-\n%02d' % (x % 100) for x in xticks])
for lab in ax.get_xticklabels():
    lab.set_linespacing(1.35)

ax.grid(True, color='black', lw=1.1)
ax.set_axisbelow(True)
ax.tick_params(axis='y', direction='out', length=10, width=1, pad=13, labelsize=16)
ax.tick_params(axis='x', length=0, pad=22, labelsize=16)
for s in ax.spines.values():
    s.set_color('black')
    s.set_linewidth(1.1)

fig.text(25 / W, 1 - 350 / H, 'Water level change (m)', rotation=90, ha='center', va='center',
         fontsize=16, fontweight='bold')
fig.text(635 / W, 1 - 796 / H, 'Years', ha='center', va='center', fontsize=16, fontweight='bold')

# legend sits against the right edge; its text runs past the figure border as in the original
leg = fig.legend(loc='upper left', bbox_to_anchor=(1281 / W, 1 - 221 / H), fontsize=12.5,
                 frameon=True, fancybox=False, edgecolor='black', handlelength=2.1,
                 handletextpad=0.3, labelspacing=0.62, borderpad=0.35, borderaxespad=0)
leg.get_frame().set_linewidth(1.0)

fig.savefig('out.png', dpi=100)
